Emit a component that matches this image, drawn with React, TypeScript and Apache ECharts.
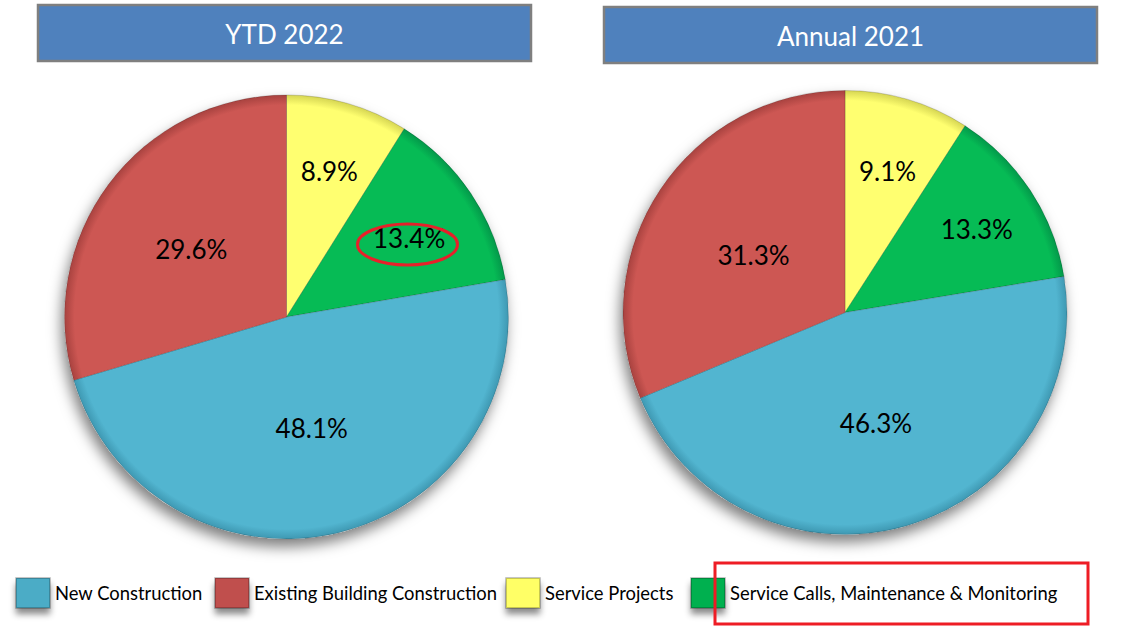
import React, { useEffect, useRef } from "react";
import * as echarts from "echarts";

// ---- data ----
const CATEGORIES = [
  "New Construction",
  "Existing Building Construction",
  "Service Projects",
  "Service Calls, Maintenance & Monitoring",
];
const YTD_2022 = [48.1, 29.6, 8.9, 13.4];
const ANNUAL_2021 = [46.3, 31.3, 9.1, 13.3];
const PANEL_TITLES = ["YTD 2022", "Annual 2021"];

// ---- styles ----
const SLICE_ORDER = [2, 3, 0, 1]; // clockwise from 12 o'clock
const PIE_COLORS = ["#52B5D0", "#CD5753", "#FFFF70", "#06BB55"];
const PIE_EDGE = ["#3E98B2", "#A8423F", "#D6D653", "#03984A"];
const LEGEND_COLORS = ["#4BACC6", "#C0504D", "#FFFF66", "#00B050"];
const LABEL_RADII_YTD = [0.7, 0.665, 0.5, 0.535];
const LABEL_RADII_ANNUAL = [0.68, 0.71, 0.505, 0.495];
const FONT = "Lato, 'Noto Sans', sans-serif";

const PANELS = [
  { values: YTD_2022, radii: LABEL_RADII_YTD, cx: 286.5, cy: 317, r: 222, box: { x: 38, y: 5, w: 493, h: 56 } },
  { values: ANNUAL_2021, radii: LABEL_RADII_ANNUAL, cx: 845, cy: 312.5, r: 222, box: { x: 604, y: 7, w: 493, h: 56 } },
];
const LEGEND_LEFT = [15, 214, 505, 690];

function bevel(i: number, cx: number, cy: number, r: number) {
  return {
    type: "radial",
    x: cx,
    y: cy,
    r,
    global: true,
    colorStops: [
      { offset: 0, color: PIE_COLORS[i] },
      { offset: 0.955, color: PIE_COLORS[i] },
      { offset: 1, color: PIE_EDGE[i] },
    ],
  };
}

export default function App() {
  const ref = useRef<HTMLDivElement>(null);
  useEffect(() => {
    if (!ref.current) return;
    const chart = echarts.init(ref.current, undefined, { renderer: "svg" });
    const series: any[] = [];
    PANELS.forEach((p) => {
      series.push({
        type: "pie",
        silent: true,
        z: 1,
        center: [p.cx, p.cy],
        radius: p.r,
        label: { show: false },
        labelLine: { show: false },
        data: [
          {
            value: 1,
            name: "",
            itemStyle: {
              color: "#ffffff",
              shadowBlur: 14,
              shadowOffsetX: -3,
              shadowOffsetY: 8,
              shadowColor: "rgba(0,0,0,0.5)",
            },
          },
        ],
      });
      const ordered = SLICE_ORDER.map((ci) => ({ ci, v: p.values[ci] }));
      const total = ordered.reduce((s, o) => s + o.v, 0);
      const mids: number[] = [];
      let acc = 0;
      ordered.forEach((o) => {
        mids.push((acc + o.v / 2) / total);
        acc += o.v;
      });
      series.push({
        type: "pie",
        z: 2,
        center: [p.cx, p.cy],
        radius: p.r,
        startAngle: 90,
        clockwise: true,
        label: {
          show: true,
          position: "inside",
          color: "#000",
          fontFamily: FONT,
          fontSize: 26,
          formatter: (prm: any) => prm.value.toFixed(1) + "%",
        },
        labelLine: { show: false },
        labelLayout: (prm: any) => {
          const k = prm.dataIndex;
          const a = mids[k] * Math.PI * 2;
          const d = p.radii[k] * p.r;
          return {
            x: p.cx + d * Math.sin(a),
            y: p.cy - d * Math.cos(a) + 3,
            align: "center",
            verticalAlign: "middle",
          };
        },
        data: ordered.map((o) => ({
          name: CATEGORIES[o.ci],
          value: o.v,
          itemStyle: {
            color: bevel(o.ci, p.cx, p.cy, p.r),
            borderColor: "rgba(0,0,0,0.22)",
            borderWidth: 0.8,
          },
        })),
      });
    });

    const legends = CATEGORIES.map((c, i) => ({
      left: LEGEND_LEFT[i],
      top: 577,
      padding: 0,
      icon: "rect",
      itemWidth: 34,
      itemHeight: 30,
      selectedMode: false,
      textStyle: { color: "#000", fontFamily: FONT, fontSize: 18.4 },
      itemStyle: { shadowBlur: 6, shadowOffsetY: 6, shadowColor: "rgba(0,0,0,0.45)" },
      data: [{ name: c, itemStyle: { color: LEGEND_COLORS[i] } }],
    }));

    const graphic: any[] = [];
    PANELS.forEach((p, i) => {
      graphic.push({
        type: "rect",
        shape: { x: p.box.x, y: p.box.y, width: p.box.w, height: p.box.h },
        style: { fill: "#4F81BD", stroke: "#7F7F7F", lineWidth: 2.5 },
        z: 10,
      });
      graphic.push({
        type: "text",
        x: p.box.x + p.box.w / 2,
        y: p.box.y + p.box.h / 2 + 1,
        style: {
          text: PANEL_TITLES[i],
          fill: "#ffffff",
          font: `26px ${FONT}`,
          textAlign: "center",
          textVerticalAlign: "middle",
        },
        z: 11,
      });
    });
    graphic.push({
      type: "ellipse",
      shape: { cx: 407.5, cy: 244.5, rx: 50, ry: 20.5 },
      style: { fill: "none", stroke: "#E8202A", lineWidth: 3 },
      z: 20,
    });
    graphic.push({
      type: "rect",
      shape: { x: 715, y: 563, width: 373, height: 61 },
      style: { fill: "none", stroke: "#EE1C25", lineWidth: 3 },
      z: 20,
    });

    chart.setOption({
      animation: false,
      backgroundColor: "#ffffff",
      legend: legends,
      series,
      graphic,
    });
    return () => chart.dispose();
  }, []);
  return (
    <div
      ref={ref}
      style={{ position: "fixed", left: 0, top: 0, width: 1138, height: 636 }}
    />
  );
}
